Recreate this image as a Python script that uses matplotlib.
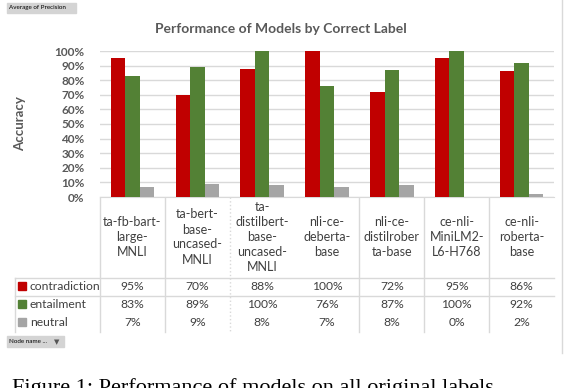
import matplotlib
matplotlib.use("Agg")
import matplotlib.pyplot as plt
from matplotlib.patches import Rectangle
import numpy as np

plt.rcParams['font.family'] = ['Lato', 'DejaVu Sans']

models = ["ta-fb-bart-\nlarge-\nMNLI",
          "ta-bert-\nbase-\nuncased-\nMNLI",
          "ta-\ndistilbert-\nbase-\nuncased-\nMNLI",
          "nli-ce-\ndeberta-\nbase",
          "nli-ce-\ndistilrober\nta-base",
          "ce-nli-\nMiniLM2-\nL6-H768",
          "ce-nli-\nroberta-\nbase"]
series_names = ["contradiction", "entailment", "neutral"]
contradiction = [95, 70, 88, 100, 72, 95, 86]
entailment = [83, 89, 100, 76, 87, 100, 92]
neutral = [7, 9, 8, 7, 8, 0, 2]
yticks = [0, 10, 20, 30, 40, 50, 60, 70, 80, 90, 100]
colors = ["#C00000", "#538135", "#A5A5A5"]
title = "Performance of Models by Correct Label"

W, H = 564, 388
fig = plt.figure(figsize=(W / 100, H / 100), dpi=100)

# pixel-space layout
L, R, T, B = 100, 554, 51, 197
n = len(models)
colw = (R - L) / n

ax = fig.add_axes([L / W, 1 - B / H, (R - L) / W, (B - T) / H])
ax.set_xlim(-0.5, n - 0.5)
ax.set_ylim(0, 100)
x = np.arange(n)
bw = 0.223
for k, vals in enumerate([contradiction, entailment, neutral]):
    ax.bar(x + (k - 1) * bw, vals, width=bw, color=colors[k], zorder=3)
ax.set_yticks(yticks)
ax.set_yticklabels([f"{v}%" for v in yticks], fontsize=8.5, color="#595959",
                   fontweight="bold")
ax.tick_params(axis='y', length=0, pad=11)
ax.set_xticks([])
ax.grid(axis='y', color="#d9d9d9", linewidth=1, zorder=0)
for s in ["top", "right", "left"]:
    ax.spines[s].set_visible(False)
ax.spines["bottom"].set_color("#d9d9d9")
ax.set_axisbelow(True)

# overlay in pixel coordinates
ov = fig.add_axes([0, 0, 1, 1], zorder=-1)
ov.set_xlim(0, W)
ov.set_ylim(H, 0)
ov.axis("off")

ov.text(281, 29, title, ha="center", va="center", fontsize=10, color="#595959",
        fontweight="bold")
ov.text(20, 124, "Accuracy", rotation=90, ha="center", va="center", fontsize=9.5,
        color="#595959", fontweight="bold")

line_c = "#d9d9d9"
txt_c = "#404040"
# table vertical lines
col_edges = [L + i * colw for i in range(n + 1)]
for i, xe in enumerate(col_edges[:-1]):
    if i == 3:
        continue
    style = ":" if i == 2 else "-"
    ov.plot([xe, xe], [197, 332], color=line_c, lw=1, ls=style)
ov.plot([15, 15], [278, 332], color=line_c, lw=1)
# horizontal lines
ov.plot([15, R], [278, 278], color=line_c, lw=1)
ov.plot([15, R], [296, 296], color=line_c, lw=1)
# right border
ov.plot([562, 562], [0, 353], color="#d9d9d9", lw=1)

# category labels
for i, m in enumerate(models):
    ov.text(L + colw * (i + 0.5), 237, m, ha="center", va="center",
            fontsize=9, color=txt_c, linespacing=1.3)

# rows
row_y = [286, 304, 322]
for k, (name, vals) in enumerate(zip(series_names, [contradiction, entailment, neutral])):
    ov.add_patch(Rectangle((18, row_y[k] - 4), 8, 8, color=colors[k]))
    ov.text(30, row_y[k], name, ha="left", va="center", fontsize=8.7, color=txt_c)
    for i, v in enumerate(vals):
        ov.text(L + colw * (i + 0.5), row_y[k], f"{v}%", ha="center", va="center",
                fontsize=8.7, color=txt_c)

# pivot buttons
ov.add_patch(Rectangle((7, 3), 69, 10, color="#d4d4d4"))
ov.text(9, 8, "Average of Precision", ha="left", va="center", fontsize=4.5, color="#000000")
ov.add_patch(Rectangle((7, 336), 57, 11, color="#d4d4d4"))
ov.text(9, 341.5, "Node name ...", ha="left", va="center", fontsize=4.5, color="#000000")
ov.text(57, 341.5, "\u25BC", ha="center", va="center", fontsize=5, color="#555555")

# partial caption (cut off at the bottom edge, as in the source image)
ov.text(12, 378, "Figure 1: Performance of models on all original labels", ha="left", va="top",
        fontsize=16, family="Liberation Serif", color="#000000")

fig.savefig("out.png", dpi=100)
